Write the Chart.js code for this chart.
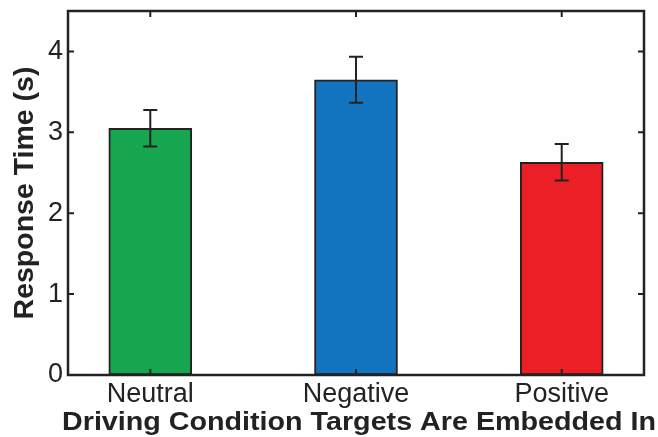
<!DOCTYPE html>
<html>
<head>
<meta charset="utf-8">
<script src="https://cdn.jsdelivr.net/npm/chart.js@4.4.1/dist/chart.umd.min.js"></script>
<style>
  html, body { margin: 0; padding: 0; background: #fff; }
  #wrap { width: 658px; height: 437px; }
</style>
</head>
<body>
<div id="wrap"><canvas id="rtChart" width="658" height="437"></canvas></div>
<script>
const conditions = ["Neutral", "Negative", "Positive"];
const positions = [1, 2, 3];
const meanRT = [3.05, 3.65, 2.63];
const errRT = [0.225, 0.285, 0.225];
const barColors = ["#15a64f", "#1273bf", "#ec1f27"];
const yTicks = [0, 1, 2, 3, 4];
const xTitle = "Driving Condition Targets Are Embedded In";

const FONT = "'Liberation Sans', Arial, Helvetica, sans-serif";
const INK = "#222";

// box round the plot, inward ticks on all four sides, and the error bars
const boxAndErrors = {
    id: "boxAndErrors",
    afterDatasetsDraw(chart) {
        const ctx = chart.ctx;
        const { left, right, top, bottom } = chart.chartArea;
        const xs = chart.scales.x;
        const ys = chart.scales.y;
        const tick = 6;

        ctx.save();
        ctx.strokeStyle = INK;

        // error bars
        ctx.lineWidth = 2;
        meanRT.forEach((m, i) => {
            const x = xs.getPixelForValue(positions[i]);
            const yHi = ys.getPixelForValue(m + errRT[i]);
            const yLo = ys.getPixelForValue(m - errRT[i]);
            ctx.beginPath();
            ctx.moveTo(x, yHi);
            ctx.lineTo(x, yLo);
            ctx.moveTo(x - 7, yHi);
            ctx.lineTo(x + 7, yHi);
            ctx.moveTo(x - 7, yLo);
            ctx.lineTo(x + 7, yLo);
            ctx.stroke();
        });

        // ticks
        ctx.lineWidth = 2;
        ctx.beginPath();
        yTicks.forEach(v => {
            const y = ys.getPixelForValue(v);
            ctx.moveTo(left, y);
            ctx.lineTo(left + tick, y);
            ctx.moveTo(right, y);
            ctx.lineTo(right - tick, y);
        });
        positions.forEach(v => {
            const x = xs.getPixelForValue(v);
            ctx.moveTo(x, bottom);
            ctx.lineTo(x, bottom - tick);
            ctx.moveTo(x, top);
            ctx.lineTo(x, top + tick);
        });
        ctx.stroke();

        // axes box
        ctx.lineWidth = 2.5;
        ctx.strokeRect(left, top, right - left, bottom - top);

        // x title: wider than the plot, so drawn here instead of by the scale
        ctx.fillStyle = INK;
        ctx.font = "bold 28.7px " + FONT;
        ctx.textAlign = "center";
        ctx.textBaseline = "alphabetic";
        ctx.translate((left + right) / 2 + 3, 430);
        ctx.scale(1, 0.88);
        ctx.fillText(xTitle, 0, 0);
        ctx.restore();
    }
};

new Chart(document.getElementById("rtChart"), {
    type: "bar",
    plugins: [boxAndErrors],
    data: {
        datasets: [{
            data: positions.map((p, i) => ({ x: p, y: meanRT[i] })),
            backgroundColor: barColors,
            borderColor: INK,
            borderWidth: 2,
            borderSkipped: false,
            barThickness: 83
        }]
    },
    options: {
        responsive: false,
        animation: false,
        layout: {
            padding: { top: 11, right: 14, left: 0, bottom: 0 }
        },
        plugins: {
            legend: { display: false },
            tooltip: { enabled: false }
        },
        scales: {
            x: {
                type: "linear",
                min: 0.6,
                max: 3.4,
                offset: false,
                grid: { display: false, drawTicks: false },
                border: { display: false },
                afterBuildTicks: s => { s.ticks = positions.map(v => ({ value: v })); },
                afterFit: s => {
                    s.height = 62;
                    s.paddingLeft = 0;
                    s.paddingRight = 0;
                },
                ticks: {
                    color: INK,
                    padding: 3,
                    font: { family: FONT, size: 27 },
                    callback: v => conditions[positions.indexOf(v)]
                },
                title: { display: false }
            },
            y: {
                min: 0,
                max: 4.5,
                grid: { display: false, drawTicks: false },
                border: { display: false },
                afterBuildTicks: s => { s.ticks = yTicks.map(v => ({ value: v })); },
                afterFit: s => {
                    s.width = 68;
                    s.paddingTop = 0;
                    s.paddingBottom = 0;
                },
                ticks: {
                    color: INK,
                    padding: 5,
                    font: { family: FONT, size: 27 }
                },
                title: {
                    display: true,
                    text: "Response Time (s)",
                    color: INK,
                    padding: { top: 8, bottom: 0 },
                    font: { family: FONT, size: 28.5, weight: "bold" }
                }
            }
        }
    }
});
</script>
</body>
</html>
